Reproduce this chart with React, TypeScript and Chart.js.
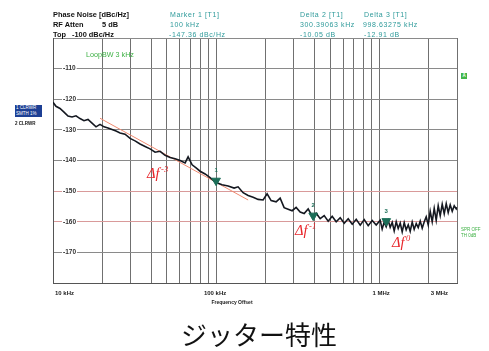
import React, { useEffect, useRef } from 'react';
import { Chart, registerables } from 'chart.js';

Chart.register(...registerables);

// ---- data (frequency offset in kHz, level in dBc/Hz) ----
const traceFreqKHz = [
  10, 10.43, 11.04, 11.68, 12.36, 13.08, 13.84, 14.64, 15.49, 16.39, 17.35, 18.36, 19.42, 20.55, 21.75,
  23.01, 24.35, 25.77, 27.65, 29.68, 31.85, 34.18, 36.69, 39.37, 42.26, 45.35, 48.67, 52.24, 56.06, 60.17,
  64.57, 67.37, 71.28, 75.41, 79.79, 85.63, 91.9, 100, 108.8, 118.5, 129.0, 136.4, 146.4, 157.2, 168.7,
  181.0, 194.2, 205.5, 217.5, 233.4, 247.0, 261.3, 276.5, 292.6, 309.6, 327.7, 346.7, 366.9, 388.2, 410.8,
  434.7, 460.0, 486.7, 515.0, 545.0, 576.7, 610.3, 645.7, 683.3, 723.1, 765.1, 809.6, 856.3, 906.1, 958.8,
  1014, 1043, 1073, 1104, 1136, 1168, 1202, 1236, 1272, 1308, 1346, 1384, 1424, 1464, 1507,
  1549, 1594, 1639, 1687, 1735, 1785, 1836, 1889, 1942, 1998, 2055, 2114, 2175, 2237, 2301,
  2367, 2435, 2505, 2577, 2650, 2726, 2805, 2885, 2968, 3000,
];
const traceLevel = [
  -121.0, -122.3, -123.0, -124.2, -125.5, -125.8, -125.4, -126.3, -127.0, -126.6, -127.8, -129.0, -128.2, -129.0, -129.4,
  -129.9, -130.4, -131.0, -131.4, -132.8, -133.6, -134.6, -135.4, -136.2, -137.3, -137.0, -138.3, -139.0, -139.4, -140.0,
  -140.8, -138.8, -141.4, -142.4, -143.5, -144.4, -145.6, -147.2, -147.9, -148.3, -149.0, -148.6, -150.5, -151.4, -152.0,
  -152.7, -152.9, -150.9, -153.1, -153.5, -152.3, -155.4, -155.9, -156.4, -155.3, -156.8, -157.3, -155.8, -158.2, -157.2,
  -159.0, -158.0, -159.8, -158.2, -160.0, -158.7, -160.5, -159.0, -160.8, -159.2, -161.1, -159.3, -161.3, -159.6, -161.1,
  -159.5, -162.4, -160.1, -161.6, -159.6, -161.8, -160.2, -163.0, -160.0, -162.2, -160.4, -163.3, -160.3, -162.6, -161.0,
  -163.1, -160.1, -162.5, -160.6, -161.9, -159.8, -162.1, -160.0, -158.4, -161.0, -156.6, -160.0, -155.6, -159.5, -154.8,
  -158.0, -154.3, -157.4, -154.1, -157.0, -154.5, -156.6, -154.8, -155.8, -155.3,
];
const slopeFreqKHz = [19.42, 157.2];
const slopeLevel = [-126.2, -152.9];
const markerFreqKHz = [100, 394, 1105];
const markerLevel = [-146.6, -158.0, -159.8];
const markerNames = ['1', '2', '3'];

const yTicks = [-180, -170, -160, -150, -140, -130, -120, -110, -100];
const xGridKHz = [
  10, 20, 30, 40, 50, 60, 70, 80, 90,
  100, 200, 300, 400, 500, 600, 700, 800, 900,
  1000, 2000, 3000,
];
const xLabelKHz = [10, 100, 1000, 3000];
const xLabels = ['10 kHz', '100 kHz', '1 MHz', '3 MHz'];

const SANS = '"Liberation Sans", Arial, sans-serif';

const overlayPlugin = {
  id: 'overlay',
  afterDatasetsDraw(chart: any) {
    const { ctx } = chart;
    const meta = chart.getDatasetMeta(0);
    ctx.save();
    ctx.fillStyle = '#1c6e58';
    ctx.font = `bold 6px ${SANS}`;
    ctx.textAlign = 'center';
    ctx.textBaseline = 'middle';
    meta.data.forEach((pt: any, i: number) => {
      ctx.fillText(markerNames[i], pt.x, pt.y - 10);
    });
    ctx.restore();
  },
  afterDraw(chart: any) {
    const { ctx, chartArea } = chart;
    const x = chart.scales.x;
    ctx.save();
    ctx.fillStyle = '#222';
    ctx.font = `bold 6px ${SANS}`;
    ctx.textBaseline = 'middle';
    xLabelKHz.forEach((v, i) => {
      let px = x.getPixelForValue(v);
      let align: CanvasTextAlign = 'center';
      if (i === 0) { align = 'left'; px += 2; }
      else if (i === xLabelKHz.length - 1) { align = 'right'; px -= 9; }
      else if (v === 1000) { px += 2; }
      else { px -= 1; }
      ctx.textAlign = align;
      ctx.fillText(xLabels[i], px, chartArea.bottom + 10);
    });
    ctx.font = `bold 5px ${SANS}`;
    ctx.textAlign = 'center';
    ctx.fillText('Frequency Offset', chartArea.left + 179, chartArea.bottom + 20);
    ctx.restore();
  },
};

function T(props: { x: number; y: number; size: number; color?: string; bold?: boolean; ls?: number; children: React.ReactNode }) {
  return (
    <div
      style={{
        position: 'absolute',
        left: props.x,
        top: props.y - props.size / 2,
        fontSize: props.size,
        lineHeight: 1,
        color: props.color || '#111',
        fontWeight: props.bold ? 'bold' : 'normal',
        letterSpacing: props.ls || 0,
        whiteSpace: 'nowrap',
        fontFamily: SANS,
      }}
    >
      {props.children}
    </div>
  );
}

function DeltaF(props: { x: number; y: number; exp: string }) {
  return (
    <div
      style={{
        position: 'absolute',
        left: props.x,
        top: props.y,
        fontSize: 14.5,
        lineHeight: 1,
        color: '#e8262b',
        fontStyle: 'italic',
        fontFamily: '"Liberation Serif", "DejaVu Serif", serif',
        whiteSpace: 'nowrap',
      }}
    >
      Δf<span style={{ fontSize: 8.5, position: 'relative', top: -6.5, marginLeft: 1.5 }}>{props.exp}</span>
    </div>
  );
}

export default function App() {
  const ref = useRef<HTMLCanvasElement>(null);

  useEffect(() => {
    const chart = new Chart(ref.current as HTMLCanvasElement, {
      type: 'line',
      data: {
        datasets: [
          {
            label: 'markers',
            data: markerFreqKHz.map((f, i) => ({ x: f, y: markerLevel[i] })),
            showLine: false,
            pointStyle: 'triangle',
            rotation: 180,
            pointRadius: 5,
            pointBackgroundColor: '#1c6e58',
            pointBorderColor: '#1c6e58',
            pointBorderWidth: 1,
          },
          {
            label: 'trace',
            data: traceFreqKHz.map((f, i) => ({ x: f, y: traceLevel[i] })),
            borderColor: '#141820',
            borderWidth: 1.6,
            pointRadius: 0,
            tension: 0,
          },
          {
            label: 'slope',
            data: slopeFreqKHz.map((f, i) => ({ x: f, y: slopeLevel[i] })),
            borderColor: '#f08a70',
            borderWidth: 1,
            pointRadius: 0,
          },
        ],
      },
      options: {
        responsive: false,
        animation: false,
        devicePixelRatio: 1,
        layout: { padding: { left: 53, top: 38, right: 32, bottom: 68 } },
        plugins: { legend: { display: false }, tooltip: { enabled: false } },
        scales: {
          x: {
            type: 'logarithmic',
            min: 10,
            max: 3000,
            afterBuildTicks: (s: any) => { s.ticks = xGridKHz.map((v) => ({ value: v })); },
            afterFit: (s: any) => { s.height = 0; },
            ticks: { display: false },
            grid: { color: '#707070', lineWidth: 1, drawTicks: false },
            border: { color: '#555', width: 1 },
          },
          y: {
            type: 'linear',
            min: -180,
            max: -100,
            afterBuildTicks: (s: any) => { s.ticks = yTicks.map((v) => ({ value: v })); },
            afterFit: (s: any) => { s.width = 0; },
            ticks: {
              mirror: true,
              padding: 10,
              color: '#333',
              font: { size: 6.5, weight: 'bold', family: SANS },
              showLabelBackdrop: true,
              backdropPadding: 1,
              backdropColor: (c: any) => (c.tick && (c.tick.value === -100 || c.tick.value === -180) ? 'rgba(0,0,0,0)' : '#ffffff'),
              callback: (v: any) => (v === -100 || v === -180 ? '' : String(v)),
            },
            grid: {
              drawTicks: false,
              color: (c: any) => (c.tick && (c.tick.value === -150 || c.tick.value === -160) ? '#d99a9a' : '#8a8a8a'),
            },
            border: { color: '#555', width: 1 },
          },
        },
      } as any,
      plugins: [overlayPlugin],
    });
    return () => chart.destroy();
  }, []);

  const teal = '#2e9a9a';
  const green = '#3cb043';

  return (
    <div style={{ position: 'fixed', left: 0, top: 0, width: 489, height: 351, background: '#fff', overflow: 'hidden' }}>
      <canvas ref={ref} width={489} height={351} style={{ position: 'absolute', left: 0, top: 0 }} />

      <T x={53} y={14.3} size={7.4} bold>Phase Noise [dBc/Hz]</T>
      <T x={53} y={24.3} size={7.4} bold>RF Atten</T>
      <T x={102} y={24.3} size={7.4} bold>5 dB</T>
      <T x={53} y={34.2} size={7.4} bold>Top</T>
      <T x={72} y={34.2} size={7.4} bold>-100 dBc/Hz</T>

      <T x={170} y={14.3} size={7} color={teal} ls={0.6}>Marker 1 [T1]</T>
      <T x={170} y={24.3} size={7} color={teal} ls={0.6}>100 kHz</T>
      <T x={169} y={34.2} size={7} color={teal} ls={0.6}>-147.36 dBc/Hz</T>

      <T x={300} y={14.3} size={7} color={teal} ls={0.6}>Delta 2 [T1]</T>
      <T x={300} y={24.3} size={7} color={teal} ls={0.6}>300.39063 kHz</T>
      <T x={300} y={34.2} size={7} color={teal} ls={0.6}>-10.05 dB</T>

      <T x={364} y={14.3} size={7} color={teal} ls={0.6}>Delta 3 [T1]</T>
      <T x={363} y={24.3} size={7} color={teal} ls={0.6}>998.63275 kHz</T>
      <T x={364} y={34.2} size={7} color={teal} ls={0.6}>-12.91 dB</T>

      <T x={86} y={55} size={7.2} color={green}>LoopBW 3 kHz</T>

      <div style={{ position: 'absolute', left: 15, top: 105, width: 27, height: 12, background: '#1d3f94', color: '#fff', fontFamily: SANS, fontSize: 4.5, lineHeight: '5.5px', paddingLeft: 1, boxSizing: 'border-box', whiteSpace: 'nowrap' }}>
        <div>1 CLRWR</div>
        <div>SMTH 1%</div>
      </div>
      <T x={15} y={124} size={4.5} bold>2 CLRWR</T>

      <div style={{ position: 'absolute', left: 461, top: 73, width: 6, height: 6, background: '#41b649', color: '#fff', fontFamily: SANS, fontSize: 4.5, lineHeight: '6px', textAlign: 'center', fontWeight: 'bold' }}>A</div>
      <T x={461} y={230} size={4.5} color={green}>SPR OFF</T>
      <T x={461} y={236} size={4.5} color={green}>TH 0dB</T>

      <DeltaF x={147} y={166} exp="-3" />
      <DeltaF x={295} y={223} exp="-1" />
      <DeltaF x={392} y={235} exp="0" />

      <div style={{ position: 'absolute', left: 259, top: 321, transform: 'translateX(-50%)', fontFamily: '"Noto Sans CJK JP", sans-serif', fontSize: 26, lineHeight: 1, color: '#111', whiteSpace: 'nowrap' }}>
        ジッター特性
      </div>
    </div>
  );
}
